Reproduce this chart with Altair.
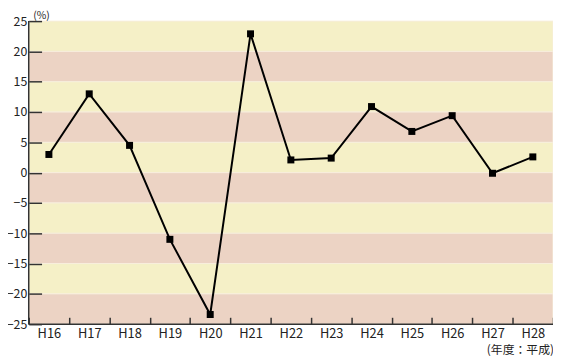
import altair as alt
import pandas as pd

# data
years = ["H16", "H17", "H18", "H19", "H20", "H21", "H22", "H23", "H24", "H25", "H26", "H27", "H28"]
rates = [3.0, 13.0, 4.5, -11.0, -23.4, 22.9, 2.1, 2.4, 10.9, 6.8, 9.4, -0.1, 2.6]
y_ticks = [-25, -20, -15, -10, -5, 0, 5, 10, 15, 20, 25]
band_lo = [20, 15, 10, 5, 0, -5, -10, -15, -20, -25]
band_kind = ["a", "b", "a", "b", "a", "b", "a", "b", "a", "b"]

W, H = 531, 307
FONT = "Noto Sans CJK JP"

df = pd.DataFrame({"year": years, "rate": rates})
bands = pd.DataFrame({"lo": band_lo, "hi": [v + 5 for v in band_lo], "kind": band_kind})
one = pd.DataFrame({"k": [0]})

yscale = alt.Scale(domain=[-25, 25], nice=False, zero=False)
yaxis = alt.Axis(title=None, values=y_ticks, tickCount=len(y_ticks), offset=-13, tickSize=13, domain=False,
                 labelPadding=2, labelFontSize=12.5, labelColor="#222", labelFont=FONT,
                 labelOverlap=False, labelBound=False, labelSeparation=0, zindex=2,
                 tickColor="#333", tickWidth=1.5, grid=False)

rects = alt.Chart(bands).mark_rect(stroke="#f7eedc", strokeWidth=1).encode(
    x=alt.value(0), x2=alt.value(W),
    y=alt.Y("lo:Q", scale=yscale, axis=yaxis),
    y2="hi:Q",
    color=alt.Color("kind:N", scale=alt.Scale(domain=["a", "b"], range=["#f5f0c7", "#ecd3c4"]), legend=None),
)

xenc = alt.X("year:N", sort=years, scale=alt.Scale(paddingInner=0, paddingOuter=0),
             axis=alt.Axis(title=None, tickBand="extent", offset=-7, tickSize=7, domain=False,
                           labelAngle=0, labelPadding=3, labelFontSize=13, labelColor="#222",
                           labelFont=FONT, labelOverlap=False, zindex=2,
                           tickColor="#333", tickWidth=1.5, grid=False))

line = alt.Chart(df).mark_line(color="black", strokeWidth=2).encode(x=xenc, y=alt.Y("rate:Q", scale=yscale, axis=yaxis))
pts = alt.Chart(df).mark_point(shape="square", filled=True, size=50, color="black", opacity=1).encode(
    x=alt.X("year:N", sort=years), y="rate:Q")

left_dom = alt.Chart(one).mark_rule(color="#333", strokeWidth=1.5).encode(
    x=alt.value(0), y=alt.value(0), y2=alt.value(H))
bot_dom = alt.Chart(one).mark_rule(color="#333", strokeWidth=1.5).encode(
    x=alt.value(0), x2=alt.value(W), y=alt.value(H))

pct = alt.Chart(one).mark_text(text="(%)", font=FONT, fontSize=10.5, fontWeight="normal", color="#222",
                               align="center", baseline="alphabetic").encode(
    x=alt.value(13), y=alt.value(-2))
unit = alt.Chart(one).mark_text(text="(年度：平成)", font=FONT, fontSize=12, fontWeight="normal", color="#222",
                                align="right", baseline="top").encode(
    x=alt.value(W + 1), y=alt.value(H + 21))

chart = alt.layer(rects, line, pts, left_dom, bot_dom, pct, unit).properties(
    width=W, height=H,
    autosize=alt.AutoSizeParams(type="none"),
    padding={"left": 21, "top": 11, "right": 0, "bottom": 36},
).configure_view(stroke=None).resolve_scale(color="independent")

chart.save("out.html", embed_options={"renderer": "svg", "actions": False})
